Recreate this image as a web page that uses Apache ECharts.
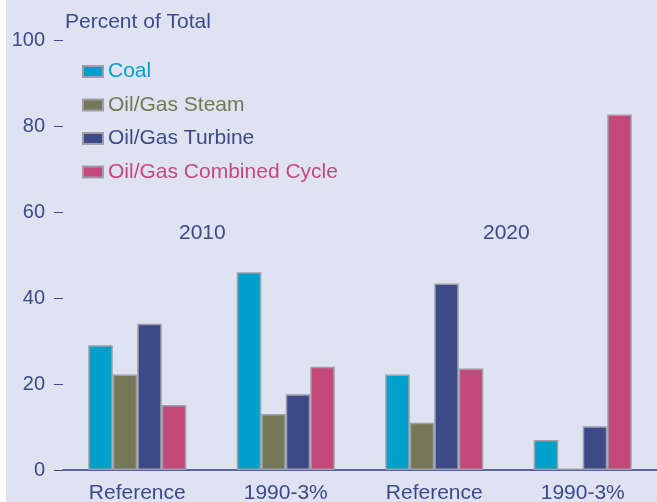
<!DOCTYPE html>
<html lang="en">
<head>
    <meta charset="UTF-8">
    <title>Percent of Total</title>
    <script src="https://cdn.jsdelivr.net/npm/echarts@6/dist/echarts.min.js"></script>
    <style>
        body { margin: 0; background: #fff; }
        #chart {
            position: absolute;
            left: 6px;
            top: 0;
            width: 651px;
            height: 502px;
        }
    </style>
</head>
<body>
    <div id="chart"></div>
    <script>
        // categories along the bottom
        const categories = ['Reference', '1990-3%', 'Reference', '1990-3%'];
        const years = ['2010', '2020'];

        // series values (percent of total)
        const coal = [29, 46, 22.2, 7];
        const oilGasSteam = [22.2, 13, 11, 0.3];
        const oilGasTurbine = [34, 17.6, 43.4, 10.2];
        const combinedCycle = [15.1, 24, 23.6, 82.7];

        const seriesNames = ['Coal', 'Oil/Gas Steam', 'Oil/Gas Turbine', 'Oil/Gas Combined Cycle'];
        const seriesData = [coal, oilGasSteam, oilGasTurbine, combinedCycle];
        const colors = ['#00a0cc', '#747856', '#3d4a8a', '#c4497b'];

        const textColor = '#3c4a8c';
        const font = '"Liberation Sans", Arial, sans-serif';

        const chart = echarts.init(document.getElementById('chart'));

        const option = {
            backgroundColor: '#dfe3f1',
            animation: false,
            grid: { left: 57, right: 0, top: 40, bottom: 32, outerBoundsMode: 'none' },
            legend: {
                orient: 'vertical',
                left: 71,
                top: 56,
                icon: 'rect',
                itemWidth: 20,
                itemHeight: 11,
                itemGap: 12.5,
                selectedMode: false,
                data: seriesNames.map((n, i) => ({
                    name: n,
                    textStyle: { color: colors[i], fontSize: 21, fontFamily: font }
                }))
            },
            xAxis: {
                type: 'category',
                data: categories,
                axisLine: { lineStyle: { color: '#5564a4', width: 2 } },
                axisTick: { show: false },
                axisLabel: { color: textColor, fontSize: 21, fontFamily: font, margin: 13 }
            },
            yAxis: {
                type: 'value',
                min: 0,
                max: 100,
                interval: 20,
                name: 'Percent of Total',
                nameLocation: 'end',
                nameGap: 7,
                nameTextStyle: { color: textColor, fontSize: 21, fontFamily: font, align: 'left', padding: [0, 0, 0, 2] },
                axisLine: { show: false },
                axisTick: { show: true, length: 9, lineStyle: { color: textColor, width: 1 } },
                splitLine: { show: false },
                axisLabel: { color: textColor, fontSize: 20, fontFamily: font, margin: 18 }
            },
            graphic: [
                { type: 'text', left: 173, top: 223, style: { text: years[0], fill: textColor, font: '21px ' + font } },
                { type: 'text', left: 477, top: 223, style: { text: years[1], fill: textColor, font: '21px ' + font } }
            ],
            series: seriesNames.map((n, i) => ({
                name: n,
                type: 'bar',
                data: seriesData[i],
                barWidth: 24.5,
                barGap: '0%',
                itemStyle: {
                    color: colors[i],
                    borderColor: '#9d9eaa',
                    borderWidth: 1.5
                }
            }))
        };

        chart.setOption(option);
    </script>
</body>
</html>
